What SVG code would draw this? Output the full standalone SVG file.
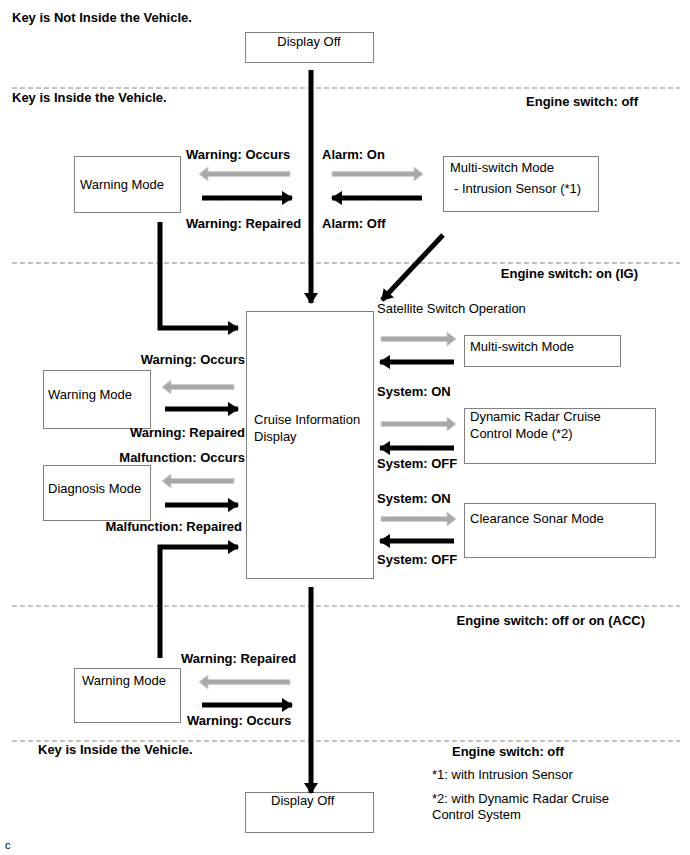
<svg xmlns="http://www.w3.org/2000/svg" width="690" height="855" viewBox="0 0 690 855">
<style>
text{font-family:"Liberation Sans",Arial,sans-serif;font-size:13px;fill:#000}
.b{font-weight:bold}
.box{fill:#fff;stroke:#808080;stroke-width:1}
.dash{stroke:#888;stroke-width:1;stroke-dasharray:5,3;fill:none}
.blk{stroke:#000;stroke-width:5;fill:none}
.gry{fill:#a8a8a8;stroke:#d0d0d0;stroke-width:1}
</style>
<defs>
<marker id="ah" markerUnits="userSpaceOnUse" markerWidth="12" markerHeight="14" refX="10" refY="7" orient="auto">
<path d="M0,0 L11,7 L0,14 Z" fill="#000"/>
</marker>
</defs>
<g id="lanes">
<line class="dash" x1="12" y1="88" x2="680" y2="88"/>
<line class="dash" x1="12" y1="263" x2="680" y2="263"/>
<line class="dash" x1="12" y1="606" x2="680" y2="606"/>
<line class="dash" x1="12" y1="741" x2="680" y2="741"/>
<text class="b" x="12" y="22">Key is Not Inside the Vehicle.</text>
<text class="b" x="12" y="102">Key is Inside the Vehicle.</text>
<text class="b" x="638" y="106" text-anchor="end">Engine switch: off</text>
<text class="b" x="638" y="278" text-anchor="end">Engine switch: on (IG)</text>
<text class="b" x="645" y="625" text-anchor="end">Engine switch: off or on (ACC)</text>
<text class="b" x="38" y="754">Key is Inside the Vehicle.</text>
<text class="b" x="452" y="756">Engine switch: off</text>
<text x="432" y="779">*1: with Intrusion Sensor</text>
<text x="432" y="803">*2: with Dynamic Radar Cruise</text>
<text x="432" y="819">Control System</text>
<text x="5" y="849" style="font-size:11px">c</text>
</g>
<g id="display-off-top"><rect class="box" x="245.5" y="32.5" width="128" height="30"/><text x="309" y="46" text-anchor="middle">Display Off</text></g>
<g id="warning-mode-top"><rect class="box" x="74.5" y="156.5" width="106" height="56"/><text x="80" y="189">Warning Mode</text></g>
<g id="multi-switch-top"><rect class="box" x="443.5" y="156.5" width="155" height="55"/><text x="450" y="172">Multi-switch Mode</text><text x="454" y="193">- Intrusion Sensor (*1)</text></g>
<g id="cruise"><rect class="box" x="246.5" y="311.5" width="127" height="267"/><text x="254" y="424">Cruise Information</text><text x="254" y="441">Display</text></g>
<g id="warning-mode-mid"><rect class="box" x="43.5" y="370.5" width="107" height="58"/><text x="48" y="399">Warning Mode</text></g>
<g id="diagnosis-mode"><rect class="box" x="43.5" y="465.5" width="107" height="55"/><text x="48" y="493">Diagnosis Mode</text></g>
<g id="multi-switch-mid"><rect class="box" x="464.5" y="335.5" width="156" height="31"/><text x="470" y="351">Multi-switch Mode</text></g>
<g id="drcc"><rect class="box" x="464.5" y="408.5" width="191" height="55"/><text x="470" y="421">Dynamic Radar Cruise</text><text x="470" y="438">Control Mode (*2)</text></g>
<g id="sonar"><rect class="box" x="464.5" y="503.5" width="191" height="54"/><text x="470" y="523">Clearance Sonar Mode</text></g>
<g id="warning-mode-bot"><rect class="box" x="74.5" y="668.5" width="106" height="54"/><text x="82" y="685">Warning Mode</text></g>
<g id="display-off-bot"><rect class="box" x="245.5" y="792.5" width="128" height="40"/><text x="271" y="805">Display Off</text></g>
<g id="connectors">
<line class="blk" x1="311" y1="70" x2="311" y2="303" marker-end="url(#ah)"/>
<line class="blk" x1="443" y1="235" x2="382" y2="300" marker-end="url(#ah)"/>
<polyline class="blk" points="160,222 160,328 238,328" marker-end="url(#ah)"/>
<polyline class="blk" points="160,658 160,547 238,547" marker-end="url(#ah)"/>
<line class="blk" x1="311" y1="587" x2="311" y2="793" marker-end="url(#ah)"/>
<path class="gry" d="M290,171.5 L208,171.5 L208,167 L199,174 L208,181 L208,176.5 L290,176.5 Z"/>
<line class="blk" x1="202" y1="198" x2="292" y2="198" marker-end="url(#ah)"/>
<path class="gry" d="M332,171.5 L414,171.5 L414,167 L423,174 L414,181 L414,176.5 L332,176.5 Z"/>
<line class="blk" x1="422" y1="198" x2="332" y2="198" marker-end="url(#ah)"/>
<path class="gry" d="M234,384.5 L171,384.5 L171,380 L162,387 L171,394 L171,389.5 L234,389.5 Z"/>
<line class="blk" x1="165" y1="409" x2="238" y2="409" marker-end="url(#ah)"/>
<path class="gry" d="M234,478.5 L171,478.5 L171,474 L162,481 L171,488 L171,483.5 L234,483.5 Z"/>
<line class="blk" x1="165" y1="505" x2="238" y2="505" marker-end="url(#ah)"/>
<path class="gry" d="M381,336.5 L447,336.5 L447,332 L456,339 L447,346 L447,341.5 L381,341.5 Z"/>
<line class="blk" x1="454" y1="362" x2="380" y2="362" marker-end="url(#ah)"/>
<path class="gry" d="M381,421.5 L447,421.5 L447,417 L456,424 L447,431 L447,426.5 L381,426.5 Z"/>
<line class="blk" x1="454" y1="448" x2="380" y2="448" marker-end="url(#ah)"/>
<path class="gry" d="M381,516.5 L447,516.5 L447,512 L456,519 L447,526 L447,521.5 L381,521.5 Z"/>
<line class="blk" x1="454" y1="541" x2="380" y2="541" marker-end="url(#ah)"/>
<path class="gry" d="M290,679.5 L208,679.5 L208,675 L199,682 L208,689 L208,684.5 L290,684.5 Z"/>
<line class="blk" x1="202" y1="705" x2="292" y2="705" marker-end="url(#ah)"/>
</g>
<g id="labels">
<text class="b" x="186" y="159">Warning: Occurs</text>
<text class="b" x="186" y="228">Warning: Repaired</text>
<text class="b" x="322" y="159">Alarm: On</text>
<text class="b" x="322" y="228">Alarm: Off</text>
<text x="377" y="313">Satellite Switch Operation</text>
<text class="b" x="245" y="364" text-anchor="end">Warning: Occurs</text>
<text class="b" x="245" y="437" text-anchor="end">Warning: Repaired</text>
<text class="b" x="245" y="462" text-anchor="end">Malfunction: Occurs</text>
<text class="b" x="242" y="531" text-anchor="end">Malfunction: Repaired</text>
<text class="b" x="377" y="396">System: ON</text>
<text class="b" x="377" y="468">System: OFF</text>
<text class="b" x="377" y="503">System: ON</text>
<text class="b" x="377" y="564">System: OFF</text>
<text class="b" x="181" y="663">Warning: Repaired</text>
<text class="b" x="187" y="725">Warning: Occurs</text>
</g>
</svg>
